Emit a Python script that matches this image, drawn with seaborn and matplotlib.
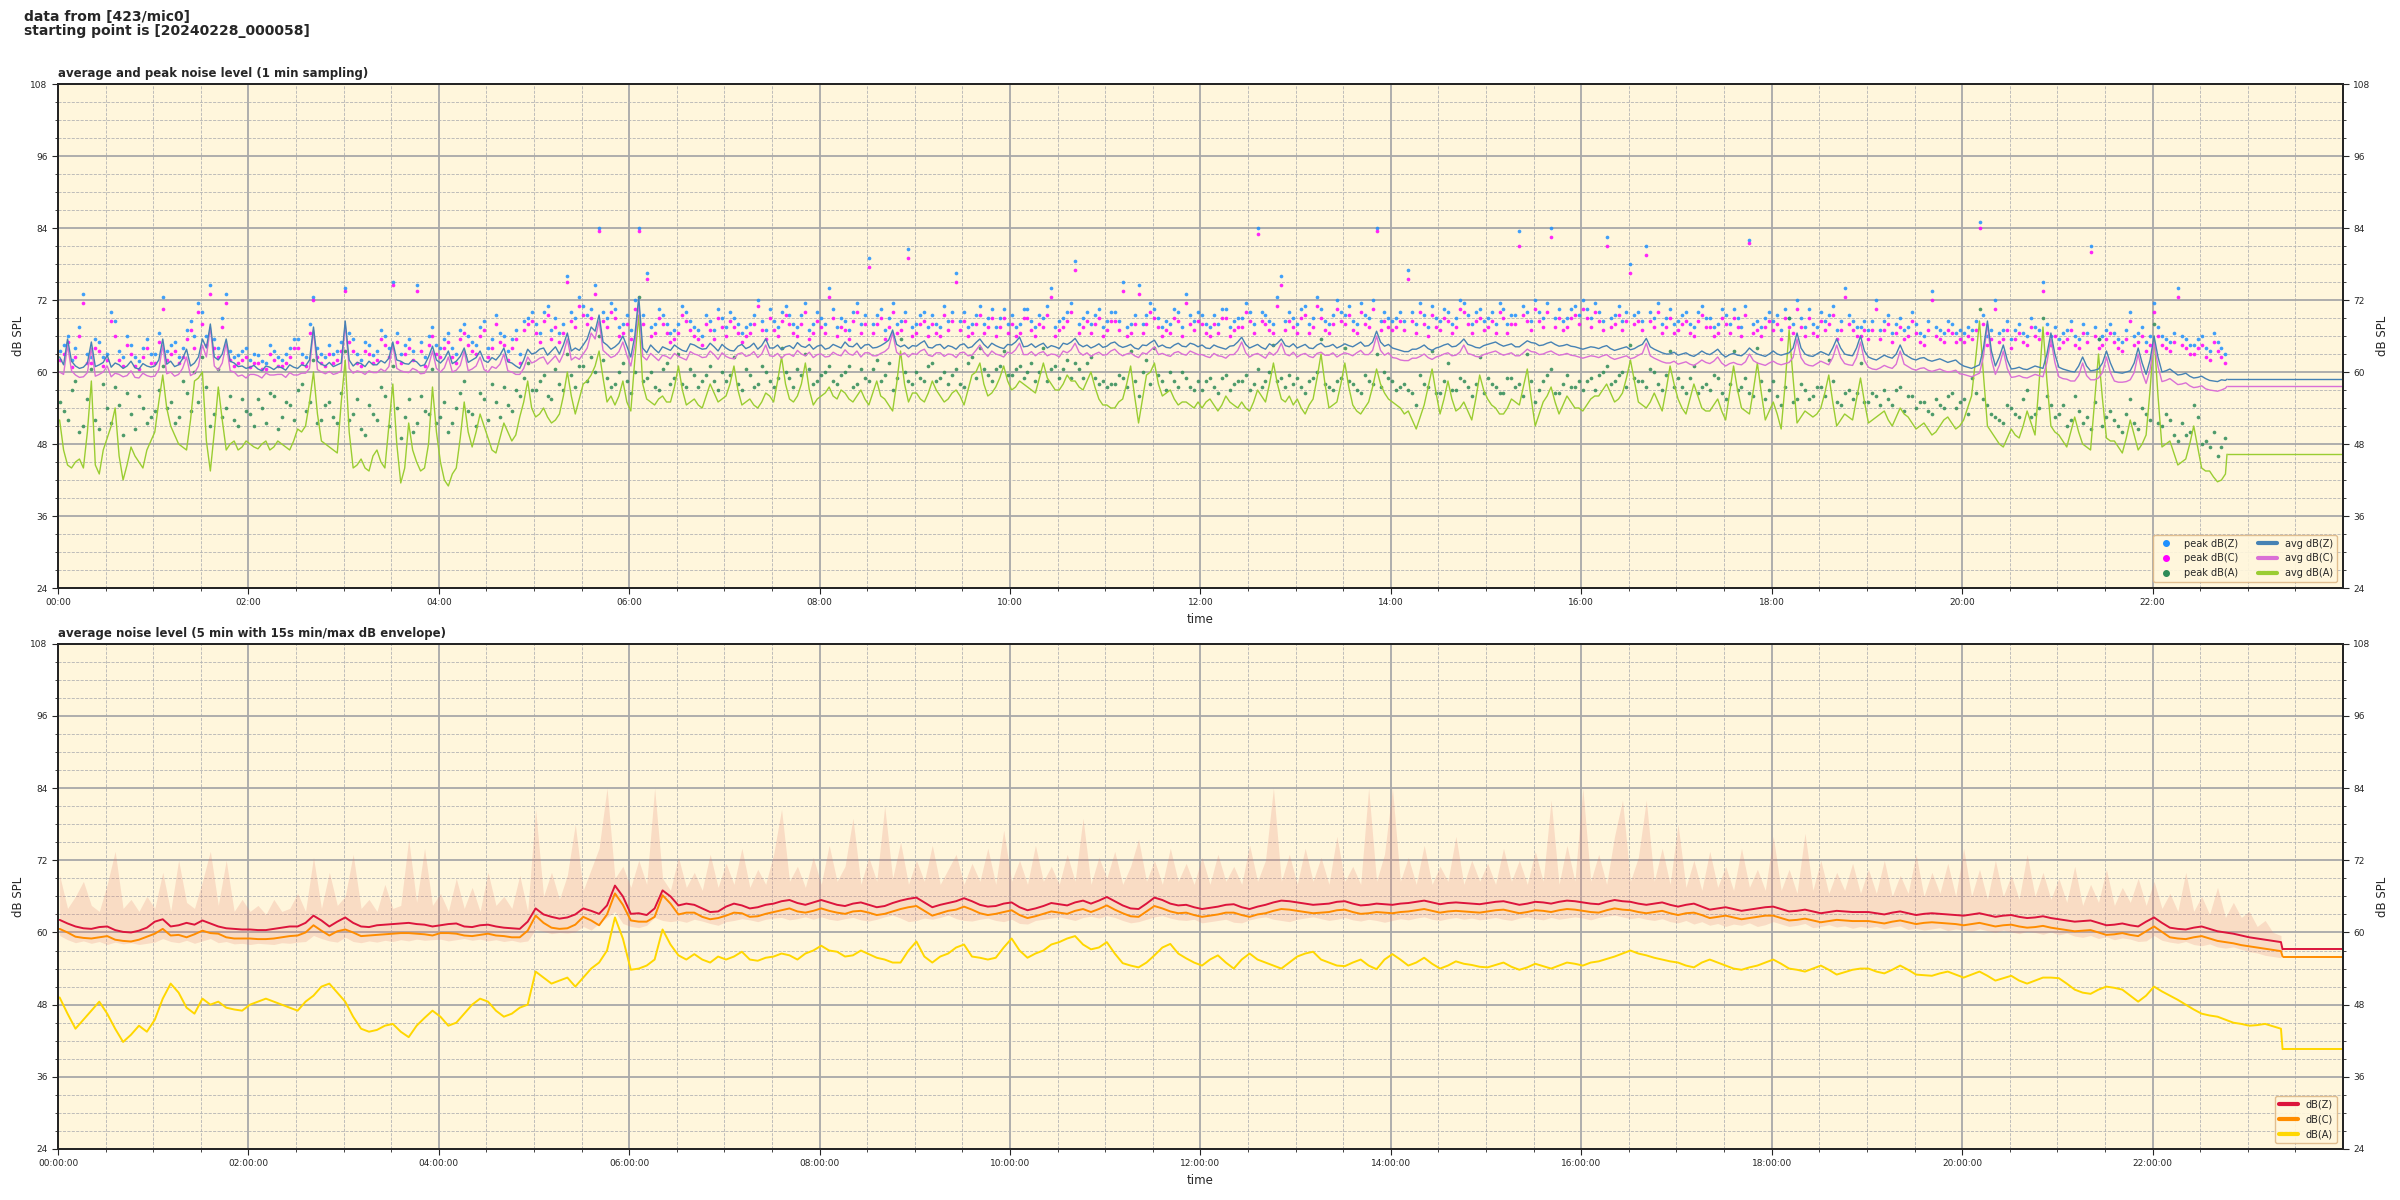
import pandas as pd
import matplotlib
matplotlib.use("Agg")
import matplotlib.pyplot as plt
import matplotlib.dates as mdates
from matplotlib.ticker import MultipleLocator
from matplotlib.lines import Line2D
import seaborn as sns

# ---------------- data ----------------
# top chart: readings every 5 min from 00:00:58 (one row per hour),
# the *_mid lists hold the readings 2.5 min after each of those.
# last value of each avg list = level held flat to the end of the day
avg_z = [
    62.5, 65.5, 61.0, 60.8, 65.0, 61.2, 62.8, 61.5, 60.6, 61.8, 60.5, 61.0,
    61.0, 65.5, 61.8, 61.2, 63.8, 61.5, 65.5, 68.0, 62.0, 65.5, 61.5, 61.0,
    60.8, 60.5, 61.0, 60.4, 60.7, 61.2, 60.6, 61.0, 67.5, 61.3, 61.6, 61.2,
    68.5, 61.0, 61.4, 61.8, 61.2, 61.5, 65.0, 61.8, 61.3, 61.7, 61.2, 64.3,
    61.5, 63.5, 61.8, 64.0, 62.0, 63.5, 61.6, 62.0, 64.0, 61.5, 60.6, 63.8,
    63.2, 64.0, 63.5, 63.0, 66.5, 64.0, 64.5, 67.5, 69.5, 64.5, 64.2, 66.0,
    62.5, 72.5, 63.2, 63.8, 64.2, 63.6, 64.0, 63.4, 64.5, 63.8, 64.8, 63.5,
    64.0, 63.5, 64.6, 64.2, 63.8, 65.5, 64.0, 63.7, 64.4, 64.9, 64.1, 63.8,
    64.5, 64.0, 64.3, 65.0, 64.2, 63.9, 64.6, 64.1, 64.8, 67.0, 64.2, 63.9,
    64.3, 65.2, 64.0, 64.6, 64.4, 63.8, 64.7, 64.2, 65.5, 64.0, 64.4, 63.9,
    64.5, 65.8, 64.3, 64.1, 64.8, 64.4, 63.9, 64.6, 65.6, 64.2, 64.0, 64.7,
    64.3, 65.0, 64.1, 64.6, 63.8, 64.4, 65.3, 64.5, 64.0, 64.8, 64.2, 64.6,
    64.5, 63.9, 64.2, 63.8, 64.4, 65.8, 64.0, 64.6, 63.8, 64.3, 65.5, 64.2,
    64.0, 64.6, 63.9, 64.8, 64.3, 64.0, 64.7, 64.2, 65.0, 64.4, 66.8, 64.3,
    64.0, 63.6, 63.4, 63.8, 64.5, 63.6, 64.2, 64.7, 64.3, 65.5, 64.4, 64.0,
    64.6, 65.0, 64.3, 64.7, 64.2, 65.2, 64.8, 64.5, 65.0, 64.3, 64.6, 64.2,
    63.8, 64.2, 63.9, 64.4, 63.6, 64.0, 63.7, 64.3, 65.6, 63.8, 63.2, 63.0,
    62.8, 63.2, 62.6, 63.5, 62.9, 63.8, 62.5, 63.1, 62.7, 64.0, 63.0, 62.6,
    63.5, 62.8, 63.2, 66.5, 63.0, 62.6, 63.4, 62.8, 65.5, 63.0, 62.7, 66.0,
    62.5, 62.0, 62.8, 62.3, 64.5, 62.6, 62.0, 62.4, 61.8, 62.2, 61.6, 62.0,
    61.0, 60.6, 61.2, 68.5, 61.0, 64.5, 60.5, 60.8, 60.4, 61.0, 60.6, 66.5,
    60.8, 60.3, 60.0, 62.5, 60.2, 60.5, 63.5, 60.0, 59.8, 60.2, 64.0, 59.6,
    66.0, 60.0, 60.5, 59.5, 59.8, 59.0, 59.3, 58.6, 58.4, 58.6,
    58.8,
]
avg_z_mid = [
    61.2, 61.8, 60.6, 61.5, 60.9, 61.6, 60.8, 61.2, 61.0, 60.7, 61.4, 60.8,
    62.0, 61.3, 60.9, 62.2, 61.0, 62.5, 64.0, 62.5, 63.0, 61.8, 60.9, 60.6,
    61.1, 60.2, 60.8, 60.9, 60.3, 60.8, 61.2, 62.0, 61.8, 61.0, 60.9, 61.5,
    62.0, 61.6, 60.9, 61.2, 61.9, 62.3, 62.0, 61.4, 62.0, 61.0, 62.5, 62.0,
    62.2, 61.4, 62.6, 61.6, 62.4, 61.9, 62.4, 62.8, 61.7, 61.0, 62.0, 63.0,
    63.8, 62.8, 64.2, 64.5, 63.5, 63.6, 65.5, 66.8, 65.0, 63.8, 64.8, 64.3,
    66.0, 64.0, 64.5, 63.2, 63.9, 64.5, 63.6, 64.7, 64.1, 63.9, 64.2, 64.6,
    63.6, 64.3, 63.9, 64.8, 64.4, 64.0, 64.5, 64.2, 63.9, 64.3, 64.6, 64.3,
    63.8, 64.6, 64.0, 64.3, 64.8, 64.5, 64.0, 64.4, 65.3, 64.6, 64.5, 64.4,
    64.8, 64.1, 64.5, 63.9, 64.2, 64.5, 64.0, 64.9, 64.6, 64.8, 64.1, 64.6,
    65.0, 64.2, 64.7, 64.5, 64.0, 64.2, 64.8, 65.0, 64.6, 64.5, 64.3, 64.1,
    64.8, 64.4, 64.3, 64.0, 64.5, 64.9, 64.2, 64.1, 64.5, 64.3, 64.8, 64.2,
    64.0, 64.5, 64.0, 64.3, 65.0, 64.6, 64.3, 64.1, 64.7, 64.8, 64.4, 64.7,
    64.3, 64.0, 64.5, 64.2, 64.6, 64.3, 64.4, 64.6, 64.3, 65.0, 65.0, 64.6,
    63.8, 63.4, 63.8, 64.1, 63.9, 64.0, 64.5, 64.2, 64.8, 64.6, 64.1, 64.4,
    64.8, 64.6, 64.5, 64.2, 64.7, 64.9, 64.4, 64.8, 64.6, 64.4, 64.3, 64.0,
    64.0, 64.1, 64.2, 63.9, 63.8, 64.2, 63.9, 64.6, 64.2, 63.5, 63.0, 63.3,
    63.0, 62.8, 63.0, 63.1, 63.3, 63.0, 62.9, 62.8, 63.2, 63.4, 62.8, 63.0,
    63.0, 63.0, 64.0, 64.0, 62.7, 63.0, 63.1, 64.0, 64.0, 62.8, 64.0, 63.5,
    62.2, 62.4, 62.5, 63.0, 63.0, 62.2, 62.3, 62.0, 62.0, 61.9, 61.8, 61.4,
    60.8, 60.9, 64.0, 63.5, 62.5, 62.0, 60.6, 60.5, 60.7, 60.8, 63.0, 63.0,
    60.5, 60.1, 61.0, 61.0, 60.3, 61.5, 61.5, 59.9, 60.0, 61.5, 61.5, 62.0,
    62.5, 60.2, 60.0, 59.6, 59.3, 59.1, 58.9, 58.5, 58.7,
]
avg_c = [
    60.0, 64.5, 59.5, 59.2, 64.0, 59.6, 61.0, 59.8, 59.2, 60.2, 59.0, 59.4,
    59.3, 64.5, 60.0, 59.6, 62.5, 59.8, 64.5, 67.5, 60.3, 64.8, 60.0, 59.5,
    59.6, 59.4, 59.8, 59.5, 59.6, 59.9, 59.5, 59.8, 67.0, 60.0, 60.1, 59.8,
    68.0, 59.8, 60.0, 60.2, 59.9, 60.1, 64.5, 60.2, 59.9, 60.3, 59.8, 63.5,
    60.0, 62.5, 60.3, 63.5, 60.5, 62.5, 60.0, 60.6, 63.0, 60.0, 59.6, 62.5,
    61.8, 62.5, 62.0, 61.6, 65.5, 62.5, 63.0, 66.5, 68.5, 63.0, 62.7, 65.0,
    61.0, 71.5, 62.0, 62.5, 62.8, 62.2, 62.6, 62.0, 63.0, 62.4, 63.5, 62.1,
    62.6, 62.2, 63.2, 62.8, 62.4, 64.5, 62.6, 62.3, 63.0, 63.6, 62.7, 62.4,
    63.0, 62.6, 62.9, 63.7, 62.8, 62.5, 63.2, 62.7, 63.4, 66.5, 62.8, 62.5,
    62.9, 63.8, 62.6, 63.2, 63.0, 62.4, 63.3, 62.8, 64.5, 62.6, 63.0, 62.5,
    63.1, 64.8, 62.9, 62.7, 63.4, 63.0, 62.5, 63.2, 64.8, 62.8, 62.6, 63.3,
    62.9, 63.8, 62.7, 63.2, 62.4, 63.0, 64.2, 63.1, 62.6, 63.4, 62.8, 63.2,
    62.9, 62.4, 62.7, 62.3, 62.9, 65.0, 62.5, 63.1, 62.3, 62.8, 64.8, 62.7,
    62.5, 63.1, 62.4, 63.3, 62.8, 62.5, 63.2, 62.7, 63.6, 62.9, 66.0, 62.8,
    62.4, 62.0, 61.9, 62.3, 63.0, 62.1, 62.7, 63.2, 62.8, 64.5, 62.9, 62.5,
    63.1, 63.5, 62.8, 63.2, 62.7, 63.8, 63.3, 63.0, 63.5, 62.8, 63.1, 62.7,
    62.3, 62.7, 62.4, 62.9, 62.1, 62.5, 62.2, 62.8, 64.8, 62.3, 61.7, 61.5,
    61.3, 61.7, 61.1, 62.0, 61.4, 62.5, 61.0, 61.6, 61.2, 63.0, 61.5, 61.1,
    61.8, 61.2, 61.6, 65.5, 61.4, 61.0, 61.8, 61.2, 64.5, 61.4, 61.1, 65.0,
    60.8, 60.4, 61.1, 60.6, 63.5, 60.9, 60.3, 60.7, 60.1, 60.5, 60.0, 60.3,
    59.6, 59.2, 59.8, 68.0, 59.6, 63.5, 59.1, 59.4, 59.0, 59.6, 59.2, 65.5,
    59.2, 58.8, 58.5, 61.5, 58.7, 59.0, 62.5, 58.5, 58.3, 58.7, 63.0, 58.1,
    65.0, 58.4, 58.9, 57.9, 58.2, 57.4, 57.7, 57.0, 56.8, 57.3,
    57.6,
]
avg_c_mid = [
    59.6, 60.2, 59.1, 59.9, 59.3, 60.0, 59.2, 59.6, 59.4, 59.1, 59.8, 59.2,
    60.4, 59.7, 59.3, 60.6, 59.4, 61.0, 62.5, 61.0, 61.5, 60.2, 59.3, 59.0,
    59.6, 59.0, 59.5, 59.6, 59.1, 59.5, 59.8, 60.6, 60.4, 59.7, 59.6, 60.2,
    60.6, 60.2, 59.6, 59.9, 60.5, 60.9, 60.6, 60.0, 60.6, 59.7, 61.0, 60.6,
    60.7, 60.0, 61.1, 60.2, 61.0, 60.4, 60.9, 61.3, 60.2, 59.6, 60.6, 61.5,
    62.3, 61.3, 62.7, 63.0, 62.0, 62.1, 64.0, 65.5, 63.6, 62.4, 63.4, 62.8,
    64.5, 62.6, 63.1, 61.9, 62.6, 63.1, 62.3, 63.4, 62.8, 62.5, 62.9, 63.2,
    62.3, 63.0, 62.6, 63.4, 63.0, 62.7, 63.1, 62.9, 62.6, 63.0, 63.3, 62.9,
    62.5, 63.3, 62.7, 63.0, 63.5, 63.2, 62.7, 63.1, 64.0, 63.3, 63.2, 63.1,
    63.5, 62.8, 63.2, 62.6, 62.9, 63.2, 62.7, 63.6, 63.3, 63.5, 62.8, 63.3,
    63.7, 62.9, 63.4, 63.2, 62.7, 62.9, 63.5, 63.7, 63.3, 63.2, 63.0, 62.8,
    63.5, 63.1, 63.0, 62.7, 63.2, 63.6, 62.9, 62.8, 63.2, 63.0, 63.5, 62.9,
    62.6, 63.1, 62.6, 62.9, 63.6, 63.2, 62.9, 62.7, 63.3, 63.4, 63.0, 63.3,
    62.9, 62.6, 63.1, 62.8, 63.2, 62.9, 63.0, 63.2, 62.9, 63.6, 63.6, 63.2,
    62.3, 61.9, 62.3, 62.6, 62.4, 62.5, 63.0, 62.7, 63.3, 63.1, 62.6, 62.9,
    63.3, 63.1, 63.0, 62.7, 63.2, 63.4, 62.9, 63.3, 63.1, 62.9, 62.8, 62.5,
    62.5, 62.6, 62.7, 62.4, 62.3, 62.7, 62.4, 63.1, 62.7, 62.0, 61.5, 61.8,
    61.5, 61.3, 61.5, 61.6, 61.8, 61.5, 61.4, 61.3, 61.7, 61.9, 61.3, 61.5,
    61.4, 61.4, 62.4, 62.4, 61.1, 61.4, 61.5, 62.4, 62.4, 61.2, 62.4, 61.9,
    60.5, 60.7, 60.8, 61.3, 61.3, 60.5, 60.6, 60.3, 60.3, 60.2, 60.1, 59.7,
    59.4, 59.5, 62.6, 62.1, 61.1, 60.6, 59.2, 59.1, 59.3, 59.4, 61.6, 61.6,
    58.9, 58.5, 59.4, 59.4, 58.7, 59.9, 59.9, 58.3, 58.4, 59.9, 59.9, 60.4,
    60.9, 58.6, 58.4, 58.0, 57.7, 57.5, 57.2, 56.9, 57.0,
]
avg_a = [
    52.0, 44.5, 45.0, 44.0, 58.5, 43.0, 49.0, 54.0, 42.0, 47.5, 45.0, 47.0,
    50.0, 59.5, 51.0, 48.0, 47.0, 58.5, 60.0, 43.5, 57.5, 47.0, 48.5, 47.5,
    48.0, 47.2, 48.5, 47.5, 48.0, 47.0, 50.5, 51.0, 60.0, 48.5, 47.5, 46.5,
    62.0, 44.0, 45.5, 43.5, 47.0, 44.0, 58.0, 41.5, 51.5, 45.0, 44.0, 57.5,
    45.0, 41.0, 44.0, 55.0, 47.5, 53.0, 49.0, 46.5, 51.5, 48.5, 52.5, 58.5,
    52.5, 54.0, 51.5, 53.0, 60.0, 53.0, 58.0, 59.5, 63.5, 55.0, 54.5, 58.5,
    53.5, 69.5, 55.5, 54.5, 56.0, 55.0, 61.0, 54.5, 55.5, 54.0, 58.0, 55.0,
    56.0, 61.0, 54.5, 55.5, 54.0, 56.5, 55.0, 62.5, 55.5, 56.0, 61.5, 54.5,
    56.0, 57.5, 55.5, 56.5, 55.0, 57.0, 54.5, 58.5, 55.5, 53.5, 63.5, 55.0,
    56.5, 55.0, 58.5, 56.0, 55.5, 57.0, 54.5, 59.5, 61.5, 56.0, 57.5, 61.0,
    57.0, 58.5, 57.5, 56.5, 61.5, 58.0, 57.0, 59.5, 58.5, 57.0, 60.0, 55.5,
    54.5, 54.0, 55.5, 61.0, 51.5, 59.5, 61.5, 56.0, 57.0, 54.5, 55.0, 54.0,
    54.0, 55.5, 53.5, 56.0, 54.5, 55.0, 53.5, 57.0, 55.0, 61.5, 55.5, 56.0,
    55.5, 53.0, 55.5, 63.0, 54.0, 55.0, 61.5, 54.5, 53.0, 55.0, 60.5, 56.5,
    55.0, 54.0, 53.5, 50.5, 54.5, 60.5, 53.0, 58.5, 53.5, 55.0, 52.0, 59.5,
    55.5, 54.0, 53.0, 55.5, 54.5, 60.5, 51.0, 55.0, 57.5, 53.0, 56.0, 54.0,
    53.5, 55.5, 56.0, 58.0, 55.0, 56.5, 62.0, 55.0, 54.0, 56.5, 53.5, 61.0,
    55.5, 53.0, 58.0, 54.0, 53.5, 55.5, 52.0, 61.0, 54.0, 53.0, 61.5, 52.0,
    55.0, 50.5, 67.0, 51.5, 53.5, 52.5, 54.0, 59.5, 51.0, 53.0, 52.0, 59.0,
    51.5, 52.5, 53.5, 51.0, 54.0, 52.5, 50.5, 51.5, 49.5, 51.0, 52.5, 50.5,
    52.0, 56.0, 68.5, 51.0, 49.0, 47.5, 50.5, 49.0, 53.5, 49.5, 67.5, 51.0,
    49.5, 47.5, 52.5, 48.0, 47.0, 63.0, 49.0, 48.5, 46.5, 52.0, 47.0, 49.5,
    66.0, 47.5, 48.5, 44.5, 45.5, 51.0, 44.0, 43.5, 41.7, 43.0,
    46.3,
]
avg_a_mid = [
    47.0, 44.0, 45.5, 50.0, 44.5, 47.0, 51.0, 46.0, 44.5, 46.0, 44.0, 48.5,
    55.0, 54.0, 49.5, 47.5, 52.0, 59.0, 48.5, 50.0, 52.0, 48.0, 47.0, 48.5,
    47.5, 48.0, 47.0, 48.5, 47.5, 48.5, 50.0, 55.0, 53.0, 48.0, 47.0, 55.0,
    50.0, 44.5, 44.0, 46.0, 45.0, 51.0, 48.0, 44.0, 47.0, 43.5, 48.0, 50.0,
    42.0, 43.0, 49.0, 50.0, 50.0, 51.0, 47.0, 49.0, 50.0, 49.5, 55.0, 54.0,
    53.0, 52.5, 52.0, 56.0, 56.0, 55.5, 58.5, 61.0, 59.0, 56.0, 56.0, 55.0,
    62.0, 58.0, 55.0, 55.5, 55.0, 57.5, 57.0, 55.0, 54.5, 56.0, 56.5, 55.5,
    58.0, 57.0, 55.0, 54.5, 55.0, 56.0, 58.5, 58.0, 55.0, 58.0, 57.0, 55.5,
    56.5, 56.0, 57.0, 55.5, 56.0, 55.5, 56.5, 56.0, 54.5, 58.0, 58.0, 56.5,
    55.5, 56.5, 57.0, 55.0, 56.5, 56.0, 57.0, 60.0, 58.0, 56.5, 59.0, 58.5,
    57.5, 58.0, 57.0, 59.0, 59.0, 57.0, 58.0, 58.5, 57.5, 58.5, 57.5, 54.5,
    54.0, 55.0, 58.0, 56.0, 55.5, 60.0, 58.0, 56.5, 55.5, 55.0, 54.5, 55.0,
    55.0, 54.5, 54.5, 55.0, 54.0, 54.0, 55.0, 56.0, 58.0, 58.0, 55.0, 54.5,
    54.0, 54.5, 59.0, 58.0, 54.5, 58.0, 57.5, 53.5, 54.0, 57.5, 58.0, 55.5,
    54.5, 53.0, 52.0, 52.5, 57.5, 56.5, 55.5, 55.5, 54.0, 53.5, 55.5, 57.0,
    54.5, 53.0, 54.0, 55.0, 57.5, 55.5, 53.0, 56.0, 55.0, 54.5, 55.0, 54.0,
    54.5, 56.0, 57.0, 56.5, 55.5, 59.0, 58.5, 54.5, 55.0, 55.0, 57.0, 58.0,
    54.0, 55.5, 56.0, 53.5, 54.5, 53.5, 56.5, 57.0, 53.5, 57.0, 56.5, 53.5,
    53.0, 58.0, 59.0, 52.5, 53.0, 53.0, 56.5, 55.0, 52.0, 52.5, 55.5, 55.0,
    52.0, 53.0, 52.0, 52.5, 53.0, 51.5, 51.0, 50.5, 50.0, 52.0, 51.5, 51.0,
    54.0, 62.0, 59.5, 50.0, 48.0, 49.0, 49.5, 51.0, 51.5, 58.0, 58.5, 50.0,
    48.5, 50.0, 50.0, 47.5, 55.0, 55.5, 48.5, 47.5, 49.0, 49.5, 48.0, 57.0,
    56.0, 48.0, 46.5, 45.0, 48.0, 47.5, 43.5, 42.5, 42.0,
]
peak_z = [
    63.5, 66.0, 64.0, 73.0, 62.5, 65.0, 63.0, 68.5, 62.5, 64.5, 61.8, 65.5,
    63.0, 72.5, 64.5, 62.5, 67.0, 66.0, 70.0, 74.5, 64.0, 73.0, 62.5, 63.5,
    62.0, 62.8, 61.5, 63.5, 62.0, 64.0, 65.5, 62.5, 72.5, 63.0, 64.5, 63.5,
    74.0, 65.5, 62.0, 64.5, 63.5, 66.0, 75.0, 63.0, 65.5, 74.5, 62.5, 67.5,
    64.0, 66.5, 63.0, 68.0, 65.0, 67.5, 64.0, 69.5, 66.0, 65.5, 63.0, 69.0,
    68.0, 70.0, 67.0, 66.5, 76.0, 69.0, 71.0, 70.5, 84.0, 69.0, 70.5, 68.0,
    67.0, 84.0, 76.5, 68.0, 69.5, 66.5, 68.0, 70.0, 67.5, 66.0, 68.5, 70.5,
    67.5, 69.0, 66.5, 68.0, 72.0, 67.0, 68.5, 70.0, 69.5, 67.5, 71.5, 68.0,
    69.0, 74.0, 67.5, 68.5, 70.0, 68.0, 79.0, 69.5, 67.0, 71.5, 68.5, 80.5,
    68.0, 70.0, 69.5, 67.5, 68.5, 76.5, 70.0, 68.0, 71.0, 69.0, 67.5, 70.5,
    69.5, 68.0, 70.5, 67.5, 69.0, 74.0, 68.5, 70.0, 78.5, 69.0, 68.0, 70.5,
    68.5, 70.0, 75.0, 68.0, 74.5, 69.5, 70.5, 67.5, 68.0, 70.0, 73.0, 68.5,
    69.5, 67.5, 68.0, 70.5, 68.5, 69.0, 70.0, 84.0, 69.5, 68.0, 76.0, 70.0,
    68.0, 71.0, 69.0, 70.5, 68.0, 72.0, 69.5, 68.5, 71.5, 69.0, 84.0, 70.0,
    68.5, 70.0, 77.0, 68.0, 69.5, 71.0, 68.5, 70.0, 69.0, 71.5, 68.0, 70.5,
    69.0, 68.0, 70.5, 69.5, 83.5, 70.0, 72.0, 69.0, 84.0, 70.5, 69.0, 71.0,
    72.0, 69.0, 70.0, 82.5, 69.5, 68.5, 78.0, 70.0, 81.0, 69.0, 68.0, 70.5,
    68.5, 70.0, 67.5, 71.0, 69.0, 68.0, 69.5, 70.5, 67.5, 82.0, 68.5, 69.0,
    68.5, 67.0, 69.0, 72.0, 67.5, 68.0, 70.0, 69.5, 67.0, 74.0, 68.5, 67.5,
    67.0, 72.0, 68.5, 66.5, 69.0, 67.5, 68.0, 66.0, 73.5, 67.0, 68.5, 66.5,
    66.5, 67.0, 85.0, 66.0, 72.0, 67.0, 65.5, 68.0, 66.0, 67.5, 75.0, 66.0,
    65.5, 67.0, 66.0, 68.0, 81.0, 65.5, 67.0, 66.5, 65.0, 70.0, 66.5, 65.0,
    71.5, 66.0, 65.0, 74.0, 65.5, 64.5, 66.0, 63.5, 65.0, 63.0,
]
peak_z_mid = [
    64.5, 62.0, 67.5, 63.0, 65.5, 62.5, 70.0, 63.5, 66.0, 62.5, 64.0, 63.0,
    66.5, 63.5, 65.0, 64.0, 68.5, 71.5, 66.0, 65.5, 69.0, 63.5, 62.8, 64.0,
    63.0, 61.8, 64.5, 62.5, 63.0, 65.5, 63.0, 68.0, 64.0, 62.5, 63.0, 65.0,
    66.5, 63.0, 65.0, 62.8, 67.0, 64.0, 66.5, 64.5, 63.5, 65.0, 66.0, 64.5,
    65.5, 64.0, 67.0, 66.0, 64.5, 68.5, 65.5, 66.5, 63.5, 67.0, 68.5, 70.0,
    66.5, 71.0, 69.0, 68.0, 70.0, 72.5, 69.5, 74.5, 70.0, 71.5, 67.5, 69.5,
    72.0, 69.5, 67.5, 70.5, 68.0, 67.0, 71.0, 68.5, 67.0, 69.5, 67.0, 69.0,
    70.0, 68.0, 67.5, 69.5, 68.5, 70.5, 67.5, 71.0, 68.0, 69.5, 67.0, 70.0,
    68.0, 70.5, 69.0, 67.0, 71.5, 69.5, 68.0, 70.5, 69.0, 68.0, 70.0, 67.5,
    69.5, 67.5, 68.0, 71.0, 70.0, 68.5, 67.5, 69.5, 68.0, 70.5, 69.0, 68.0,
    67.5, 70.5, 68.5, 69.5, 71.0, 67.5, 69.0, 71.5, 68.0, 70.0, 69.5, 67.5,
    70.0, 68.5, 67.5, 69.5, 68.0, 71.5, 69.0, 68.5, 70.5, 67.5, 69.5, 70.0,
    68.0, 69.5, 70.5, 67.5, 69.0, 71.5, 68.0, 70.0, 68.5, 72.5, 68.5, 69.0,
    70.5, 68.0, 72.5, 68.5, 69.5, 70.0, 71.0, 68.0, 69.5, 72.0, 68.5, 69.0,
    69.0, 68.5, 70.0, 71.5, 67.5, 69.0, 70.5, 68.0, 72.0, 69.5, 70.0, 68.5,
    70.0, 71.5, 68.0, 69.5, 71.0, 68.5, 70.0, 71.5, 69.0, 68.5, 70.5, 69.5,
    70.5, 71.5, 68.5, 69.0, 71.0, 70.0, 69.5, 68.5, 70.0, 71.5, 69.0, 68.0,
    69.5, 68.0, 70.0, 69.0, 67.5, 70.5, 68.0, 69.0, 71.0, 68.0, 67.5, 70.0,
    69.5, 70.5, 68.0, 69.0, 70.5, 67.5, 68.5, 71.0, 68.5, 69.5, 67.5, 68.5,
    68.5, 67.0, 69.5, 68.0, 67.0, 70.0, 66.5, 68.5, 67.5, 66.5, 68.0, 67.0,
    67.5, 68.5, 69.5, 67.0, 66.5, 68.5, 67.0, 66.5, 69.0, 67.0, 68.0, 67.5,
    66.5, 68.5, 65.5, 66.5, 67.5, 66.0, 68.0, 65.5, 67.0, 66.0, 67.5, 66.0,
    67.5, 65.5, 66.5, 66.0, 64.5, 65.5, 64.0, 66.5, 64.0,
]
peak_c = [
    62.0, 65.0, 62.5, 71.5, 61.5, 63.5, 62.0, 66.0, 61.0, 63.0, 60.5, 64.0,
    61.5, 70.5, 63.0, 61.5, 65.5, 64.0, 68.0, 73.0, 62.5, 71.5, 61.0, 62.0,
    60.8, 61.5, 60.5, 62.0, 61.0, 62.5, 64.0, 61.0, 72.0, 61.5, 63.0, 62.0,
    73.5, 63.5, 61.0, 63.0, 62.0, 64.5, 74.5, 61.5, 64.0, 73.5, 61.0, 66.0,
    62.5, 65.0, 61.5, 66.5, 63.5, 66.0, 62.5, 68.0, 64.5, 64.0, 61.5, 68.0,
    66.5, 68.5, 65.5, 65.0, 75.0, 67.5, 69.5, 69.0, 83.5, 67.5, 69.0, 66.5,
    65.5, 83.5, 75.5, 66.5, 68.0, 65.0, 66.5, 68.5, 66.0, 64.5, 67.0, 69.0,
    66.0, 67.5, 65.0, 66.5, 71.0, 65.5, 67.0, 68.5, 68.0, 66.0, 70.0, 66.5,
    67.5, 72.5, 66.0, 67.0, 68.5, 66.5, 77.5, 68.0, 65.5, 70.0, 67.0, 79.0,
    66.5, 68.5, 68.0, 66.0, 67.0, 75.0, 68.5, 66.5, 69.5, 67.5, 66.0, 69.0,
    68.0, 66.5, 69.0, 66.0, 67.5, 72.5, 67.0, 68.5, 77.0, 67.5, 66.5, 69.0,
    67.0, 68.5, 73.5, 66.5, 73.0, 68.0, 69.0, 66.0, 66.5, 68.5, 71.5, 67.0,
    68.0, 66.0, 66.5, 69.0, 67.0, 67.5, 68.5, 83.0, 68.0, 66.5, 74.5, 68.5,
    66.5, 69.5, 67.5, 69.0, 66.5, 70.5, 68.0, 67.0, 70.0, 67.5, 83.5, 68.5,
    67.0, 68.5, 75.5, 66.5, 68.0, 69.5, 67.0, 68.5, 67.5, 70.0, 66.5, 69.0,
    67.5, 66.5, 69.0, 68.0, 81.0, 68.5, 70.5, 67.5, 82.5, 69.0, 67.5, 69.5,
    70.5, 67.5, 68.5, 81.0, 68.0, 67.0, 76.5, 68.5, 79.5, 67.5, 66.5, 69.0,
    67.0, 68.5, 66.0, 69.5, 67.5, 66.5, 68.0, 69.0, 66.0, 81.5, 67.0, 67.5,
    67.0, 65.5, 67.5, 70.5, 66.0, 66.5, 68.5, 68.0, 65.5, 72.5, 67.0, 66.0,
    65.5, 70.5, 67.0, 65.0, 67.5, 66.0, 66.5, 64.5, 72.0, 65.5, 67.0, 65.0,
    65.0, 65.5, 84.0, 64.5, 70.5, 65.5, 64.0, 66.5, 64.5, 66.0, 73.5, 64.5,
    64.0, 65.5, 64.5, 66.5, 80.0, 64.0, 65.5, 65.0, 63.5, 68.5, 65.0, 63.5,
    70.0, 64.5, 63.5, 72.5, 64.0, 63.0, 64.5, 62.0, 63.5, 61.5,
]
peak_c_mid = [
    63.0, 60.8, 66.0, 61.5, 64.0, 61.0, 68.5, 62.0, 64.5, 61.0, 62.5, 61.5,
    65.0, 62.0, 63.5, 62.5, 67.0, 70.0, 64.5, 64.0, 67.5, 62.0, 61.5, 62.5,
    61.5, 60.5, 63.0, 61.0, 61.5, 64.0, 61.5, 66.5, 62.5, 61.0, 61.5, 63.5,
    65.0, 61.5, 63.5, 61.5, 65.5, 62.5, 65.0, 63.0, 62.0, 63.5, 64.5, 63.0,
    64.0, 62.5, 65.5, 64.5, 63.0, 67.0, 64.0, 65.0, 62.0, 65.5, 67.0, 68.5,
    65.0, 69.5, 67.5, 66.5, 68.5, 71.0, 68.0, 73.0, 68.5, 70.0, 66.0, 68.0,
    70.5, 68.0, 66.0, 69.0, 66.5, 65.5, 69.5, 67.0, 65.5, 68.0, 65.5, 67.5,
    68.5, 66.5, 66.0, 68.0, 67.0, 69.0, 66.0, 69.5, 66.5, 68.0, 65.5, 68.5,
    66.5, 69.0, 67.5, 65.5, 70.0, 68.0, 66.5, 69.0, 67.5, 66.5, 68.5, 66.0,
    68.0, 66.0, 66.5, 69.5, 68.5, 67.0, 66.0, 68.0, 66.5, 69.0, 67.5, 66.5,
    66.0, 69.0, 67.0, 68.0, 69.5, 66.0, 67.5, 70.0, 66.5, 68.5, 68.0, 66.0,
    68.5, 67.0, 66.0, 68.0, 66.5, 70.0, 67.5, 67.0, 69.0, 66.0, 68.0, 68.5,
    66.5, 68.0, 69.0, 66.0, 67.5, 70.0, 66.5, 68.5, 67.0, 71.0, 67.0, 67.5,
    69.0, 66.5, 71.0, 67.0, 68.0, 68.5, 69.5, 66.5, 68.0, 70.5, 67.0, 67.5,
    67.5, 67.0, 68.5, 70.0, 66.0, 67.5, 69.0, 66.5, 70.5, 68.0, 68.5, 67.0,
    68.5, 70.0, 66.5, 68.0, 69.5, 67.0, 68.5, 70.0, 67.5, 67.0, 69.0, 68.0,
    69.0, 70.0, 67.0, 67.5, 69.5, 68.5, 68.0, 67.0, 68.5, 70.0, 67.5, 66.5,
    68.0, 66.5, 68.5, 67.5, 66.0, 69.0, 66.5, 67.5, 69.5, 66.5, 66.0, 68.5,
    68.0, 69.0, 66.5, 67.5, 69.0, 66.0, 67.0, 69.5, 67.0, 68.0, 66.0, 67.0,
    67.0, 65.5, 68.0, 66.5, 65.5, 68.5, 65.0, 67.0, 66.0, 65.0, 66.5, 65.5,
    66.0, 67.0, 68.0, 65.5, 65.0, 67.0, 65.5, 65.0, 67.5, 65.5, 66.5, 66.0,
    65.0, 67.0, 64.0, 65.0, 66.0, 64.5, 66.5, 64.0, 65.5, 64.5, 66.0, 64.5,
    66.0, 64.0, 65.0, 64.5, 63.0, 64.0, 62.5, 65.0, 62.5,
]
peak_a = [
    55.0, 52.0, 58.5, 51.0, 60.5, 50.5, 54.0, 57.5, 49.5, 53.0, 56.0, 51.5,
    53.5, 61.0, 55.0, 52.5, 56.5, 60.0, 62.5, 51.0, 60.5, 54.0, 52.0, 55.5,
    53.0, 55.5, 51.5, 56.0, 52.5, 54.5, 57.0, 53.5, 62.0, 52.0, 55.0, 51.5,
    63.5, 53.0, 50.5, 54.5, 52.0, 56.0, 61.0, 49.0, 55.5, 51.5, 53.5, 60.5,
    52.5, 50.0, 54.0, 58.5, 53.0, 56.5, 52.0, 55.0, 57.5, 53.5, 56.0, 61.5,
    57.0, 59.5, 55.5, 58.0, 63.0, 57.5, 61.0, 62.5, 66.0, 59.0, 58.0, 61.5,
    56.5, 72.5, 59.0, 57.5, 60.5, 58.0, 63.0, 57.5, 59.5, 58.5, 61.0, 57.0,
    58.5, 62.5, 57.0, 59.5, 58.0, 60.0, 57.5, 64.0, 59.0, 60.5, 63.0, 58.0,
    59.5, 61.0, 58.0, 60.0, 57.5, 60.5, 58.5, 62.0, 59.5, 57.0, 65.5, 58.5,
    60.0, 58.5, 61.5, 59.0, 58.0, 60.5, 57.5, 62.5, 64.0, 59.5, 60.5, 63.5,
    59.5, 61.0, 60.0, 58.5, 64.0, 60.5, 59.0, 62.0, 61.5, 59.0, 62.5, 58.0,
    57.5, 58.0, 59.0, 63.5, 56.0, 62.0, 64.0, 58.5, 60.0, 57.5, 59.0, 57.0,
    57.0, 59.0, 56.5, 59.5, 58.0, 58.5, 57.0, 60.5, 58.5, 64.5, 59.0, 59.5,
    59.0, 56.5, 59.0, 65.5, 57.5, 58.5, 64.0, 58.0, 56.5, 58.5, 63.0, 60.0,
    58.5, 57.5, 57.0, 54.5, 58.0, 63.5, 56.5, 61.5, 57.0, 58.5, 56.0, 62.5,
    59.0, 57.5, 56.5, 59.0, 58.0, 63.0, 55.0, 58.5, 60.5, 56.5, 59.5, 57.5,
    57.0, 59.0, 59.5, 61.0, 58.5, 60.0, 64.5, 58.5, 57.5, 60.0, 57.0, 63.5,
    59.0, 56.5, 61.0, 57.5, 57.0, 59.0, 55.5, 63.5, 57.5, 56.5, 64.0, 55.5,
    58.5, 54.5, 69.0, 55.5, 57.0, 56.0, 57.5, 62.0, 55.0, 56.5, 55.5, 61.5,
    55.0, 56.0, 57.0, 54.5, 57.5, 56.0, 54.0, 55.0, 53.0, 54.5, 56.0, 54.0,
    55.5, 59.0, 70.5, 54.5, 52.5, 51.5, 54.0, 52.5, 57.0, 53.0, 69.0, 54.5,
    53.0, 51.0, 56.0, 51.5, 50.5, 65.5, 52.5, 52.0, 50.0, 55.5, 50.5, 53.0,
    68.0, 51.0, 52.0, 48.5, 49.5, 54.5, 48.0, 47.5, 46.0, 49.0,
]
peak_a_mid = [
    53.5, 57.0, 50.0, 55.5, 52.0, 58.0, 51.5, 54.5, 56.5, 50.5, 54.0, 52.5,
    57.0, 54.0, 51.5, 58.5, 53.5, 55.0, 57.5, 53.0, 52.5, 56.0, 51.0, 53.5,
    51.0, 54.0, 56.5, 50.5, 55.0, 52.0, 58.0, 55.0, 51.5, 54.5, 52.5, 56.5,
    52.0, 55.5, 49.5, 53.0, 57.5, 51.0, 54.0, 52.5, 50.0, 56.0, 53.0, 51.5,
    55.0, 51.5, 56.5, 53.5, 51.0, 55.5, 58.0, 52.5, 54.5, 57.0, 59.0, 57.0,
    58.5, 56.0, 60.5, 57.0, 59.5, 61.0, 58.5, 60.0, 62.0, 57.5, 60.0, 58.5,
    60.0, 58.5, 60.0, 57.0, 61.5, 59.0, 58.0, 60.5, 57.5, 59.5, 58.5, 60.0,
    59.5, 58.0, 60.5, 57.5, 61.0, 58.5, 59.0, 60.0, 57.5, 59.5, 60.5, 58.5,
    60.0, 58.5, 59.5, 61.0, 58.0, 59.0, 60.5, 58.5, 61.5, 59.0, 60.0, 58.0,
    59.0, 61.0, 58.5, 60.0, 59.5, 58.0, 61.5, 59.0, 60.5, 58.5, 61.0, 59.5,
    60.5, 59.0, 61.5, 60.0, 58.5, 61.0, 60.5, 59.0, 60.5, 61.5, 59.0, 58.5,
    58.0, 59.5, 57.5, 58.5, 60.0, 58.0, 59.5, 57.0, 58.5, 60.0, 57.5, 58.5,
    58.5, 57.5, 59.0, 57.0, 58.5, 59.5, 58.0, 57.5, 60.0, 58.5, 57.5, 58.0,
    57.5, 58.5, 60.0, 58.0, 57.0, 59.0, 58.5, 57.0, 59.5, 58.0, 57.5, 59.0,
    57.0, 58.0, 56.5, 59.5, 57.5, 56.5, 58.5, 57.0, 59.0, 57.5, 58.0, 56.5,
    58.0, 56.5, 59.0, 57.5, 56.0, 58.5, 57.0, 59.5, 56.5, 58.0, 57.5, 58.5,
    58.5, 57.0, 60.0, 58.0, 59.5, 57.5, 59.0, 58.5, 60.5, 58.0, 59.5, 57.5,
    57.5, 59.0, 56.5, 58.0, 59.5, 56.5, 58.0, 57.0, 59.0, 56.0, 58.5, 57.0,
    56.0, 57.5, 55.0, 58.0, 55.5, 57.5, 56.0, 58.5, 54.5, 57.0, 56.5, 55.0,
    56.5, 54.5, 55.5, 57.0, 53.5, 56.0, 55.0, 53.5, 55.5, 54.0, 56.5, 55.0,
    53.0, 56.5, 55.5, 53.0, 52.0, 54.5, 53.0, 55.5, 52.5, 54.0, 56.0, 52.5,
    54.5, 52.0, 53.5, 52.5, 55.0, 51.0, 53.5, 51.0, 53.0, 51.5, 54.0, 52.0,
    51.5, 53.0, 49.5, 51.5, 50.0, 52.5, 48.5, 50.0, 47.5,
]

# bottom chart: 5 min average lines every 10 min from 00:00:58 (+ *_mid at +5 min),
# last value = level held flat to the end; envelope every 5 min
bot_z = [
    62.1, 61.0, 60.6, 61.0, 60.1, 60.3, 61.8, 61.0, 61.6, 62.0, 61.0, 60.6,
    60.5, 60.4, 60.8, 61.0, 62.8, 61.0, 62.5, 61.0, 61.2, 61.4, 61.6, 61.3,
    61.2, 61.5, 60.9, 61.3, 60.8, 60.6, 64.0, 62.6, 62.5, 64.0, 63.1, 67.8,
    63.1, 62.9, 67.0, 64.5, 64.6, 63.4, 64.3, 64.5, 64.2, 64.8, 65.4, 64.6,
    65.4, 64.6, 64.8, 64.6, 64.4, 65.3, 65.8, 64.2, 64.9, 65.7, 64.6, 64.4,
    65.0, 63.7, 64.4, 64.7, 65.0, 64.8, 65.9, 64.5, 63.9, 65.8, 64.8, 64.6,
    63.9, 64.3, 64.7, 63.9, 64.6, 65.3, 65.0, 64.6, 64.8, 65.2, 64.5, 64.8,
    64.6, 64.9, 65.3, 64.7, 65.0, 64.8, 64.9, 65.2, 64.6, 65.1, 64.8, 65.3,
    65.0, 64.7, 65.4, 65.1, 64.6, 65.0, 64.3, 64.8, 63.8, 64.2, 63.6, 64.0,
    64.3, 63.5, 63.8, 63.2, 63.6, 63.4, 63.4, 63.0, 63.5, 62.9, 63.2, 63.0,
    62.8, 63.2, 62.6, 62.9, 62.4, 62.7, 62.2, 61.8, 62.0, 61.2, 61.5, 61.0,
    62.5, 60.8, 60.5, 61.0, 60.2, 59.8, 59.2, 58.8, 58.4,
    57.2,
]
bot_z_mid = [
    61.5, 60.7, 60.9, 60.4, 60.0, 60.8, 62.2, 61.2, 61.3, 61.5, 60.7, 60.5,
    60.4, 60.6, 61.0, 61.6, 62.0, 61.8, 61.6, 60.9, 61.3, 61.5, 61.4, 61.0,
    61.4, 61.0, 61.2, 61.0, 60.7, 61.8, 63.0, 62.3, 63.0, 63.6, 64.5, 66.0,
    63.2, 64.0, 66.0, 64.8, 64.0, 63.5, 64.8, 64.0, 64.6, 65.2, 64.9, 65.0,
    65.0, 64.4, 65.0, 64.2, 64.9, 65.6, 65.0, 64.6, 65.2, 65.2, 64.3, 64.8,
    64.2, 64.0, 64.9, 64.5, 65.3, 65.3, 65.2, 64.0, 64.8, 65.4, 64.5, 64.2,
    64.1, 64.6, 64.2, 64.3, 65.0, 65.2, 64.8, 64.7, 65.1, 64.8, 64.6, 64.7,
    64.8, 65.1, 65.0, 64.9, 64.9, 64.7, 65.1, 64.9, 64.8, 65.0, 65.1, 65.2,
    64.8, 65.1, 65.2, 64.8, 64.8, 64.6, 64.6, 64.3, 64.0, 63.9, 63.8, 64.2,
    63.9, 63.6, 63.5, 63.4, 63.5, 63.4, 63.2, 63.3, 63.2, 63.1, 63.1, 62.9,
    63.0, 62.9, 62.8, 62.6, 62.5, 62.4, 62.0, 61.9, 61.6, 61.3, 61.2, 61.8,
    61.6, 60.6, 60.8, 60.6, 60.0, 59.5, 59.0, 58.6,
]
bot_c = [
    60.6, 59.3, 59.0, 59.4, 58.6, 58.8, 59.8, 59.5, 59.2, 60.3, 59.8, 59.0,
    59.0, 58.9, 59.2, 59.5, 61.2, 59.5, 60.5, 59.4, 59.6, 59.8, 59.9, 59.7,
    59.9, 59.8, 59.4, 59.8, 59.4, 59.2, 62.8, 60.8, 60.7, 62.6, 61.2, 66.5,
    62.0, 61.8, 66.2, 63.0, 63.3, 62.2, 62.8, 63.2, 62.7, 63.4, 64.0, 63.3,
    64.0, 63.3, 63.5, 63.3, 63.1, 63.9, 64.4, 62.8, 63.6, 64.3, 63.2, 63.1,
    63.7, 62.4, 63.1, 63.3, 63.6, 63.4, 64.5, 63.2, 62.6, 64.4, 63.5, 63.3,
    62.6, 63.0, 63.3, 62.6, 63.2, 63.9, 63.6, 63.2, 63.4, 63.8, 63.1, 63.4,
    63.2, 63.5, 63.9, 63.3, 63.6, 63.4, 63.5, 63.8, 63.2, 63.7, 63.4, 63.9,
    63.6, 63.3, 64.0, 63.7, 63.2, 63.6, 62.9, 63.3, 62.4, 62.8, 62.2, 62.6,
    62.8, 62.0, 62.3, 61.7, 62.1, 61.9, 61.9, 61.5, 62.0, 61.4, 61.7, 61.5,
    61.2, 61.6, 61.0, 61.3, 60.8, 61.1, 60.6, 60.2, 60.4, 59.6, 59.9, 59.4,
    61.0, 59.2, 58.9, 59.4, 58.6, 58.2, 57.7, 57.3, 56.9,
    56.0,
]
bot_c_mid = [
    60.0, 59.1, 59.2, 58.8, 58.5, 59.3, 60.6, 59.6, 59.7, 59.9, 59.2, 59.0,
    58.9, 59.0, 59.4, 60.0, 60.3, 60.2, 60.0, 59.5, 59.7, 59.9, 59.8, 59.5,
    59.9, 59.5, 59.6, 59.5, 59.2, 60.3, 61.6, 60.6, 61.3, 62.0, 63.0, 64.6,
    61.8, 62.6, 64.8, 63.3, 62.6, 62.4, 63.3, 62.6, 63.1, 63.7, 63.5, 63.6,
    63.6, 63.1, 63.6, 62.9, 63.5, 64.2, 63.6, 63.2, 63.8, 63.8, 62.9, 63.4,
    62.9, 62.7, 63.5, 63.1, 63.9, 63.9, 63.8, 62.7, 63.5, 64.0, 63.2, 62.9,
    62.8, 63.3, 62.9, 63.0, 63.6, 63.8, 63.4, 63.3, 63.7, 63.4, 63.2, 63.3,
    63.4, 63.7, 63.6, 63.5, 63.5, 63.3, 63.7, 63.5, 63.4, 63.6, 63.7, 63.8,
    63.4, 63.7, 63.8, 63.4, 63.4, 63.2, 63.2, 62.9, 62.6, 62.5, 62.4, 62.8,
    62.4, 62.1, 62.0, 61.9, 62.0, 61.9, 61.7, 61.8, 61.7, 61.6, 61.6, 61.4,
    61.4, 61.3, 61.2, 61.0, 60.9, 60.8, 60.4, 60.3, 60.0, 59.7, 59.6, 60.2,
    60.1, 59.0, 59.2, 59.0, 58.4, 57.9, 57.5, 57.1,
]
bot_a = [
    49.2, 44.0, 47.0, 46.5, 41.8, 44.5, 45.5, 51.5, 47.5, 49.0, 48.5, 47.2,
    48.0, 49.0, 48.0, 47.0, 49.5, 51.5, 48.5, 44.0, 43.8, 44.8, 42.6, 45.8,
    46.0, 45.0, 48.0, 48.5, 46.0, 47.5, 53.5, 51.5, 52.5, 52.5, 55.0, 62.5,
    53.8, 54.5, 60.5, 56.2, 56.4, 55.0, 55.5, 56.8, 55.3, 56.0, 56.2, 56.5,
    57.8, 56.8, 56.2, 56.4, 55.5, 55.0, 58.5, 55.0, 56.5, 58.0, 55.8, 55.8,
    59.0, 55.8, 57.0, 58.4, 59.4, 57.2, 58.4, 54.9, 54.2, 56.2, 58.1, 55.7,
    54.5, 56.2, 54.0, 56.5, 55.0, 54.0, 56.0, 56.8, 55.0, 54.4, 55.5, 53.9,
    56.4, 54.5, 55.8, 54.0, 55.2, 54.6, 54.2, 55.0, 53.8, 54.8, 54.0, 55.0,
    54.5, 55.2, 56.0, 57.0, 56.2, 55.5, 55.0, 54.2, 55.5, 54.5, 53.8, 54.5,
    55.5, 54.0, 53.5, 54.5, 53.0, 53.8, 54.0, 53.2, 54.5, 53.0, 52.8, 53.5,
    52.5, 53.5, 52.0, 52.8, 51.5, 52.5, 52.4, 50.5, 49.8, 51.0, 50.5, 48.5,
    51.0, 49.5, 48.0, 46.5, 46.0, 45.0, 44.5, 44.8, 44.0,
    40.6,
]
bot_a_mid = [
    46.5, 45.5, 48.5, 44.0, 43.0, 43.5, 49.0, 50.0, 46.5, 48.0, 47.5, 47.0,
    48.5, 48.5, 47.5, 48.5, 51.0, 50.0, 46.0, 43.5, 44.5, 43.5, 44.5, 47.0,
    44.5, 46.5, 49.0, 47.0, 46.5, 48.0, 52.5, 52.0, 51.0, 54.0, 57.0, 59.0,
    54.0, 55.5, 58.0, 55.5, 55.5, 56.0, 56.0, 55.5, 55.8, 56.5, 55.5, 57.0,
    57.0, 56.0, 57.0, 55.8, 55.0, 57.0, 56.0, 56.0, 57.5, 56.0, 55.5, 57.5,
    57.0, 56.5, 58.0, 59.0, 58.0, 57.5, 56.5, 54.5, 55.0, 57.5, 56.5, 55.0,
    55.5, 55.0, 55.5, 55.5, 54.5, 55.0, 56.5, 55.5, 54.5, 55.0, 54.5, 55.5,
    55.5, 55.0, 54.8, 54.5, 54.8, 54.3, 54.6, 54.3, 54.2, 54.4, 54.5, 54.8,
    55.0, 55.6, 56.5, 56.5, 55.8, 55.2, 54.5, 55.0, 55.0, 54.0, 54.2, 55.0,
    54.8, 53.8, 54.0, 53.8, 53.4, 54.0, 53.5, 53.8, 53.8, 52.9, 53.2, 53.0,
    53.0, 52.8, 52.4, 52.0, 52.0, 52.5, 51.5, 50.0, 50.5, 50.8, 49.5, 49.5,
    50.2, 48.8, 47.2, 46.2, 45.5, 44.8, 44.6, 44.4,
]
env_max = [
    69.5, 64.0, 66.0, 68.5, 64.5, 63.5, 68.0, 73.5, 64.0, 65.5, 63.5, 66.0,
    64.0, 70.0, 63.5, 72.0, 65.0, 64.0, 68.5, 73.5, 64.5, 72.0, 63.5, 65.5,
    63.5, 64.5, 63.0, 65.5, 63.5, 64.0, 66.5, 63.5, 72.5, 64.0, 70.0, 64.5,
    66.0, 73.0, 64.0, 65.5, 63.5, 68.0, 64.0, 64.5, 75.5, 65.0, 74.0, 64.5,
    66.5, 63.5, 69.0, 64.0, 67.5, 63.5, 70.0, 64.5, 66.0, 64.0, 69.5, 63.5,
    80.5, 66.0, 70.0, 65.5, 69.5, 78.0, 67.0, 70.5, 74.0, 84.0, 69.0, 71.0,
    67.5, 72.0, 68.0, 84.0, 69.0, 67.0, 72.5, 67.5, 70.0, 67.0, 73.0, 67.5,
    71.5, 68.0, 74.0, 67.5, 70.5, 68.0, 73.0, 80.5, 68.5, 71.0, 67.5, 72.5,
    68.0, 74.5, 68.5, 71.0, 79.0, 68.0, 72.5, 68.5, 81.0, 69.0, 75.0, 68.0,
    72.0, 68.5, 74.5, 68.0, 70.5, 73.0, 68.0, 71.5, 68.5, 74.0, 68.0, 77.0,
    68.5, 72.0, 68.0, 74.5, 68.5, 71.0, 68.0, 73.0, 68.5, 79.0, 68.0, 72.5,
    69.0, 73.5, 68.0, 71.0, 75.5, 68.5, 72.0, 68.0, 74.0, 68.5, 71.5, 68.0,
    72.5, 68.0, 73.0, 68.5, 71.0, 68.0, 74.5, 68.5, 72.0, 84.0, 68.5, 73.0,
    68.0, 74.0, 68.5, 72.5, 68.0, 76.0, 68.5, 71.0, 68.0, 84.0, 68.5, 73.0,
    84.0, 68.5, 72.5, 68.0, 74.5, 68.0, 71.0, 68.5, 76.0, 68.0, 72.0, 68.5,
    71.5, 68.0, 74.0, 68.5, 72.0, 68.0, 73.5, 68.5, 82.0, 68.0, 74.5, 68.5,
    84.0, 68.5, 73.0, 68.0, 76.0, 82.0, 68.5, 72.5, 82.0, 68.5, 74.0, 68.0,
    78.0, 67.5, 72.0, 67.0, 73.5, 67.5, 71.0, 67.0, 74.0, 67.5, 70.5, 67.0,
    76.0, 67.0, 70.5, 66.5, 76.5, 67.0, 72.0, 66.5, 70.0, 67.0, 71.5, 66.5,
    70.5, 66.5, 72.0, 66.0, 69.5, 66.5, 73.0, 66.0, 70.0, 66.5, 71.5, 66.0,
    74.0, 66.0, 70.5, 65.5, 72.0, 66.0, 69.5, 65.5, 73.0, 66.0, 70.0, 65.5,
    69.0, 65.0, 71.0, 64.5, 68.0, 65.0, 70.5, 64.5, 67.5, 65.0, 69.0, 64.5,
    68.5, 64.0, 66.5, 63.5, 70.0, 63.5, 66.0, 63.0, 67.5, 62.5, 65.0, 62.5,
    63.5, 61.0, 62.0, 60.0, 59.5,
]
env_min = [
    59.5, 58.8, 58.3, 58.6, 58.2, 58.5, 58.0, 58.4, 58.1, 58.3, 58.0, 58.2,
    58.4, 59.0, 58.5, 58.3, 58.7, 58.2, 58.6, 59.0, 58.3, 58.5, 58.1, 58.2,
    58.0, 58.2, 58.1, 58.0, 58.3, 58.2, 58.4, 58.5, 59.5, 59.0, 58.6, 58.4,
    59.2, 58.5, 58.3, 58.6, 58.4, 58.7, 58.5, 58.8, 58.6, 58.9, 58.7, 58.8,
    58.9, 58.6, 58.8, 59.0, 58.7, 58.9, 58.6, 58.8, 58.5, 58.7, 58.4, 58.6,
    60.5, 60.2, 59.8, 60.0, 59.9, 60.1, 61.0, 60.4, 61.5, 62.5, 63.5, 61.5,
    61.0, 60.8, 61.2, 62.5, 62.0, 61.8, 62.0, 61.7, 62.2, 61.9, 61.5, 61.2,
    61.8, 62.0, 62.3, 62.1, 61.8, 62.2, 62.4, 62.5, 62.1, 62.3, 62.6, 62.2,
    62.6, 62.2, 62.0, 62.3, 62.5, 62.1, 61.9, 62.2, 62.6, 62.9, 62.4, 61.8,
    62.0, 62.4, 62.2, 62.5, 62.9, 62.3, 62.0, 61.9, 62.2, 62.4, 62.0, 61.8,
    62.2, 61.5, 61.4, 62.0, 62.2, 62.4, 62.6, 62.3, 62.0, 62.5, 62.7, 62.4,
    62.8, 62.5, 62.0, 61.6, 61.8, 62.2, 62.6, 62.8, 62.4, 62.1, 62.0, 62.2,
    61.6, 61.8, 62.0, 62.2, 61.7, 61.6, 62.1, 62.4, 62.6, 62.2, 62.0, 61.8,
    62.2, 62.4, 62.6, 62.3, 62.0, 62.2, 62.5, 62.1, 61.9, 62.2, 62.0, 61.7,
    62.0, 62.3, 62.1, 62.4, 62.6, 62.2, 62.0, 62.3, 62.5, 62.2, 62.4, 62.1,
    62.3, 62.5, 62.2, 62.0, 62.4, 62.6, 62.3, 62.1, 62.5, 62.2, 62.4, 62.6,
    62.4, 62.1, 62.5, 62.7, 62.9, 62.6, 62.3, 62.5, 62.2, 62.0, 62.3, 61.8,
    61.6, 62.0, 61.4, 61.8, 61.2, 61.5, 61.0, 61.4, 61.2, 61.6, 61.0, 61.3,
    61.8, 61.4, 61.0, 61.2, 61.5, 60.8, 61.0, 61.3, 60.9, 61.1, 60.7, 61.0,
    60.8, 61.0, 60.6, 60.9, 61.1, 60.5, 60.7, 60.4, 60.6, 60.8, 60.3, 60.6,
    60.4, 60.2, 60.6, 60.3, 60.0, 60.4, 60.1, 59.8, 60.2, 60.0, 59.7, 60.1,
    59.6, 59.9, 59.4, 59.2, 59.5, 59.0, 59.3, 58.8, 59.1, 58.9, 58.5, 58.6,
    59.5, 58.7, 58.4, 58.2, 58.5, 58.0, 57.8, 58.1, 57.6, 57.4, 57.6, 57.2,
    56.8, 56.6, 56.2, 56.0, 55.8,
]


def weave(main, mid):
    # put each in-between reading after the reading it follows
    out = []
    for a, b in zip(main, mid):
        out += [a, b]
    out += list(main[len(mid):])
    return out


assert len(avg_z_mid) == len(avg_c_mid) == len(avg_a_mid) == len(avg_z) - 2
assert len(peak_z_mid) == len(peak_c_mid) == len(peak_a_mid) == len(peak_z) - 1
assert len(bot_z_mid) == len(bot_c_mid) == len(bot_a_mid) == len(bot_z) - 2

# ---------------- time axes ----------------
start = pd.Timestamp("2024-02-28 00:00:58")
day0 = pd.Timestamp("2024-02-28 00:00:00")
day_end = pd.Timestamp("2024-02-28 23:59:59")
one_min = pd.Timedelta(minutes=1)

top_z, top_c, top_a = (weave(m, h) for m, h in [(avg_z, avg_z_mid), (avg_c, avg_c_mid), (avg_a, avg_a_mid)])
pk_z, pk_c, pk_a = (weave(m, h) for m, h in [(peak_z, peak_z_mid), (peak_c, peak_c_mid), (peak_a, peak_a_mid)])
lo_z, lo_c, lo_a = (weave(m, h) for m, h in [(bot_z, bot_z_mid), (bot_c, bot_c_mid), (bot_a, bot_a_mid)])

t_peak = pd.date_range(start, periods=len(pk_z), freq="150s")
t_avg = t_peak.append(pd.DatetimeIndex([t_peak[-1] + one_min]))
t_bot = pd.date_range(start, periods=len(lo_z) - 1, freq="5min")
t_bot = t_bot.append(pd.DatetimeIndex([t_bot[-1] + one_min]))
t_env = pd.date_range(start, periods=len(env_max), freq="5min")

# ---------------- styling ----------------
sns.set_style("ticks")
plt.rcParams["font.family"] = ["DejaVu Sans"]
BG = "#fff6dc"
GRID = "#a8a8a8"

fig = plt.figure(figsize=(24, 12), dpi=100)
ax1 = fig.add_axes([0.0242, 0.51, 0.952, 0.42])
ax2 = fig.add_axes([0.0242, 0.0425, 0.952, 0.421])

fig.text(0.0098, 0.992, "data from [423/mic0]\nstarting point is [20240228_000058]",
         fontsize=10, fontweight="bold", va="top", ha="left", linespacing=1.0)


def style_axis(ax, fmt):
    ax.set_facecolor(BG)
    ax.set_xlim(day0, day_end)
    ax.set_ylim(24, 108)
    ax.yaxis.set_major_locator(MultipleLocator(12))
    ax.yaxis.set_minor_locator(MultipleLocator(3))
    ax.xaxis.set_major_locator(mdates.HourLocator(byhour=range(0, 24, 2)))
    ax.xaxis.set_minor_locator(mdates.MinuteLocator(byminute=[0, 30]))
    ax.xaxis.set_major_formatter(mdates.DateFormatter(fmt))
    ax.set_axisbelow(True)
    ax.grid(which="major", color=GRID, lw=1.3, ls="-")
    ax.grid(which="minor", color="#b4b4b4", lw=0.6, ls="--")
    ax.tick_params(which="major", labelsize=6.5, length=4)
    ax.tick_params(which="minor", length=2)
    for s in ax.spines.values():
        s.set_linewidth(1.4)
        s.set_color("black")
    axr = ax.twinx()
    axr.set_ylim(24, 108)
    axr.yaxis.set_major_locator(MultipleLocator(12))
    axr.yaxis.set_minor_locator(MultipleLocator(3))
    axr.tick_params(which="major", labelsize=6.5, length=4)
    axr.tick_params(which="minor", length=2)
    axr.set_ylabel("dB SPL", fontsize=8.5)
    for s in axr.spines.values():
        s.set_linewidth(1.4)


def draw_line(ax, t, vals, col, lw):
    # data line, then the last reading held flat to the end of the day
    sns.lineplot(x=t, y=vals, color=col, lw=lw, ax=ax, legend=False)
    ax.hlines(vals[-1], t[-1], day_end, color=col, lw=lw)


# ---------------- top: average and peak ----------------
style_axis(ax1, "%H:%M")
ax1.set_title("average and peak noise level (1 min sampling)", loc="left",
              fontsize=8.5, fontweight="bold", pad=5)

peak_cols = ["#1e90ff", "#ff00ff", "#2e8b57"]
avg_cols = ["#4682b4", "#da70d6", "#9acd32"]
for vals, col in zip([pk_z, pk_c, pk_a], peak_cols):
    sns.scatterplot(x=t_peak, y=vals, color=col, s=7, linewidth=0, alpha=0.85, ax=ax1, legend=False)
for vals, col in zip([top_a, top_c, top_z], avg_cols[::-1]):
    draw_line(ax1, t_avg, vals, col, 1.0)
ax1.set_xlabel("time", fontsize=8.5)
ax1.set_ylabel("dB SPL", fontsize=8.5)

handles = [Line2D([], [], ls="", marker="o", ms=4, color=c) for c in peak_cols]
handles += [Line2D([], [], color=c, lw=3) for c in avg_cols]
labels = ["peak dB(Z)", "peak dB(C)", "peak dB(A)", "avg dB(Z)", "avg dB(C)", "avg dB(A)"]
ax1.legend(handles, labels, loc="lower right", ncol=2, fontsize=7, facecolor=BG,
           edgecolor="#deb887", framealpha=0.9, borderaxespad=0.6)

# ---------------- bottom: 5 min average with envelope ----------------
style_axis(ax2, "%H:%M:%S")
ax2.set_title("average noise level (5 min with 15s min/max dB envelope)", loc="left",
              fontsize=8.5, fontweight="bold", pad=5)
ax2.fill_between(t_env, env_min, env_max, color="#e8806f", alpha=0.22, lw=0)
bot_cols = ["#dc143c", "#ff8c00", "#ffd700"]
for vals, col in zip([lo_a, lo_c, lo_z], bot_cols[::-1]):
    draw_line(ax2, t_bot, vals, col, 1.4)
ax2.set_xlabel("time", fontsize=8.5)
ax2.set_ylabel("dB SPL", fontsize=8.5)
handles2 = [Line2D([], [], color=c, lw=3) for c in bot_cols]
ax2.legend(handles2, ["dB(Z)", "dB(C)", "dB(A)"], loc="lower right", fontsize=7,
           facecolor=BG, edgecolor="#deb887", framealpha=0.9, borderaxespad=0.6)

fig.savefig("out.png", dpi=100)
